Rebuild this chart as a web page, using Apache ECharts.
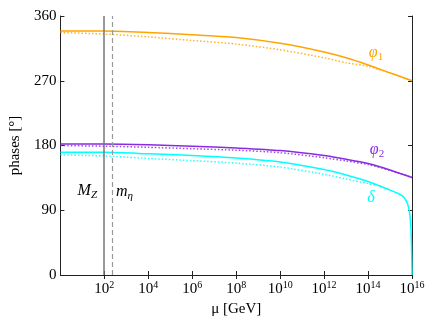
<!DOCTYPE html>
<html>
<head>
<meta charset="utf-8">
<script src="https://cdn.jsdelivr.net/npm/echarts@6/dist/echarts.min.js"></script>
<style>
  html, body { margin: 0; padding: 0; background: #fff; }
  #main { width: 436px; height: 327px; }
</style>
</head>
<body>
<div id="main"></div>
<script>
// 数据：能标 μ (GeV) 与相位 (度)
var muGrid = [1, 1e2, 1e4, 1e6, 1e8, 1e10, 1e12, 1e13, 1e14, 1e15, 1e16];
var phi1 = [339, 339, 337, 334, 330, 322, 310, 302, 292, 281, 270];
var phi1Dot = [337, 335, 331, 326, 321, 313, 302, 295, 290, 281, 270];
var phi2 = [182, 182, 181, 179, 176.5, 173, 166, 161, 155, 146, 135.5];
var phi2Dot = [180, 179, 177.5, 175.5, 173.5, 170, 163, 158.5, 153.5, 145.5, 135.5];

var muDelta = [1, 1e2, 1e4, 1e6, 1e8, 1e10, 1e12, 1e13, 1e14, 3.2e14, 1e15, 2.5e15, 4e15, 6.3e15, 7.9e15, 8.9e15, 9.5e15, 1e16];
var delta = [170.5, 170.5, 168.5, 166, 162.5, 157, 146.5, 139, 130, 124, 118, 113, 109, 99, 85, 65, 40, 0];
var muDeltaDot = [1, 1e2, 1e4, 1e6, 1e8, 1e10, 1e12, 1e13, 1e14, 3.2e14, 1e15];
var deltaDot = [167, 165.5, 162, 159, 155.5, 150, 140, 133.5, 127, 124, 118];

var xTickValues = [1e2, 1e4, 1e6, 1e8, 1e10, 1e12, 1e14, 1e16];
var mZ = 91.19, mEta = 240;

var ORANGE = '#FFA500', PURPLE = '#8A2BE2', CYAN = '#00FFFF';
var FONT = 'Liberation Serif';

function zip(xs, ys) {
  return xs.map(function (x, i) { return [x, ys[i]]; });
}

function curve(name, xs, ys, color, dotted, z) {
  return {
    name: name,
    type: 'line',
    data: zip(xs, ys),
    showSymbol: false,
    smooth: 0.25,
    z: z,
    lineStyle: {
      color: color,
      width: 1.5,
      opacity: dotted ? 0.85 : 1,
      type: dotted ? [1.5, 2] : 'solid'
    },
    animation: false
  };
}

var myChart = echarts.init(document.getElementById('main'));

var frameLine = { show: true, lineStyle: { color: '#222', width: 1 } };

var option = {
  backgroundColor: '#fff',
  animation: false,
  grid: { left: 58, right: 24, top: 16, bottom: 52 },
  xAxis: [{
    type: 'log',
    logBase: 10,
    min: 1,
    max: 1e16,
    axisLine: frameLine,
    axisTick: { show: true, inside: true, length: 4, customValues: xTickValues, lineStyle: { color: '#222' } },
    axisLabel: {
      customValues: xTickValues,
      margin: 5,
      formatter: function (v) {
        return '{b|10}{s|' + Math.round(Math.log10(v)) + '}';
      },
      rich: {
        b: { fontFamily: FONT, fontSize: 15, color: '#000', lineHeight: 17, verticalAlign: 'bottom' },
        s: { fontFamily: FONT, fontSize: 10, color: '#000', lineHeight: 10, verticalAlign: 'top' }
      }
    },
    splitLine: { show: false },
    name: 'μ [GeV]',
    nameLocation: 'middle',
    nameGap: 21,
    nameTextStyle: { fontFamily: FONT, fontSize: 15, color: '#000' }
  }, {
    type: 'log',
    logBase: 10,
    min: 1,
    max: 1e16,
    position: 'top',
    axisLine: frameLine,
    axisTick: { show: true, inside: true, length: 4, customValues: xTickValues, lineStyle: { color: '#222' } },
    axisLabel: { show: false },
    splitLine: { show: false }
  }],
  yAxis: [{
    type: 'value',
    min: 0,
    max: 360,
    interval: 90,
    axisLine: frameLine,
    axisTick: { show: true, inside: true, length: 4, lineStyle: { color: '#222' } },
    axisLabel: { fontFamily: FONT, fontSize: 15, color: '#000', margin: 4 },
    splitLine: { show: false },
    name: 'phases [°]',
    nameLocation: 'middle',
    nameGap: 36,
    nameTextStyle: { fontFamily: FONT, fontSize: 15, color: '#000' }
  }, {
    type: 'value',
    min: 0,
    max: 360,
    interval: 90,
    position: 'right',
    axisLine: frameLine,
    axisTick: { show: true, inside: true, length: 4, lineStyle: { color: '#222' } },
    axisLabel: { show: false },
    splitLine: { show: false }
  }],
  series: [
    curve('phi1 dotted', muGrid, phi1Dot, ORANGE, true, 2),
    curve('phi2 dotted', muGrid, phi2Dot, PURPLE, true, 2),
    curve('delta dotted', muDeltaDot, deltaDot, CYAN, true, 2),
    curve('phi1', muGrid, phi1, ORANGE, false, 3),
    curve('phi2', muGrid, phi2, PURPLE, false, 3),
    curve('delta', muDelta, delta, CYAN, false, 3),
    {
      name: 'masses',
      type: 'line',
      data: [],
      z: 1,
      markLine: {
        silent: true,
        symbol: ['none', 'none'],
        label: { show: false },
        animation: false,
        data: [
          { xAxis: mZ, lineStyle: { color: '#777', width: 1.5, type: 'solid' } },
          { xAxis: mEta, lineStyle: { color: '#999', width: 1.2, type: [5, 3] } }
        ]
      }
    }
  ],
  graphic: [
    {
      type: 'text', x: 97, y: 192,
      style: {
        text: '{i|M}{u|Z}', align: 'right', verticalAlign: 'middle',
        rich: {
          i: { fontFamily: FONT, fontStyle: 'italic', fontSize: 16, fill: '#000', lineHeight: 18, verticalAlign: 'top' },
          u: { fontFamily: FONT, fontStyle: 'italic', fontSize: 11, fill: '#000', lineHeight: 10, verticalAlign: 'bottom' }
        }
      }
    },
    {
      type: 'text', x: 116, y: 193,
      style: {
        text: '{i|m}{u|η}', align: 'left', verticalAlign: 'middle',
        rich: {
          i: { fontFamily: FONT, fontStyle: 'italic', fontSize: 16, fill: '#000', lineHeight: 18, verticalAlign: 'top' },
          u: { fontFamily: FONT, fontStyle: 'italic', fontSize: 11, fill: '#000', lineHeight: 10, verticalAlign: 'bottom' }
        }
      }
    },
    {
      type: 'text', x: 376, y: 54,
      style: {
        text: '{i|φ}{u|1}', align: 'center', verticalAlign: 'middle',
        rich: {
          i: { fontFamily: FONT, fontStyle: 'italic', fontSize: 16, fill: ORANGE, lineHeight: 18, verticalAlign: 'top' },
          u: { fontFamily: FONT, fontSize: 11, fill: ORANGE, lineHeight: 10, verticalAlign: 'bottom' }
        }
      }
    },
    {
      type: 'text', x: 377, y: 151,
      style: {
        text: '{i|φ}{u|2}', align: 'center', verticalAlign: 'middle',
        rich: {
          i: { fontFamily: FONT, fontStyle: 'italic', fontSize: 16, fill: PURPLE, lineHeight: 18, verticalAlign: 'top' },
          u: { fontFamily: FONT, fontSize: 11, fill: PURPLE, lineHeight: 10, verticalAlign: 'bottom' }
        }
      }
    },
    {
      type: 'text', x: 371, y: 198,
      style: {
        text: 'δ', align: 'center', verticalAlign: 'middle',
        fontFamily: FONT, fontStyle: 'italic', fontSize: 16, fill: CYAN
      }
    }
  ]
};

myChart.setOption(option);
</script>
</body>
</html>
